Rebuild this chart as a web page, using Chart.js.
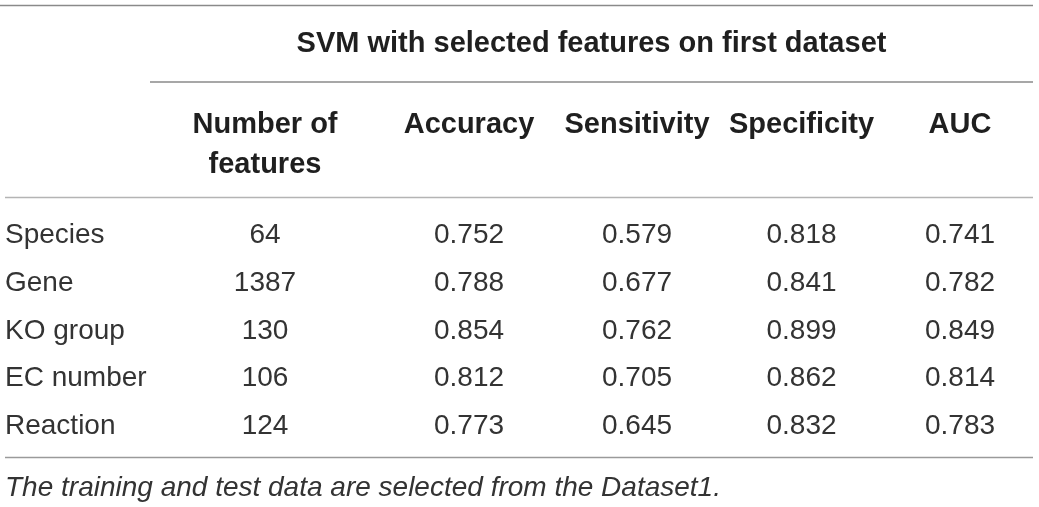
<!DOCTYPE html>
<html>
<head>
<meta charset="utf-8">
<script src="https://cdn.jsdelivr.net/npm/chart.js@4.4.1/dist/chart.umd.min.js"></script>
<style>
  html, body { margin: 0; padding: 0; background: #fff; }
  #wrap { width: 1039px; height: 507px; }
</style>
</head>
<body>
<div id="wrap"><canvas id="svmTable"></canvas></div>
<script>
// Table contents
const tableTitle = "SVM with selected features on first dataset";
const columnHeaders = [["Number of", "features"], ["Accuracy"], ["Sensitivity"], ["Specificity"], ["AUC"]];
const featureTypes = ["Species", "Gene", "KO group", "EC number", "Reaction"];
const numFeatures = [64, 1387, 130, 106, 124];
const accuracy = [0.752, 0.788, 0.854, 0.812, 0.773];
const sensitivity = [0.579, 0.677, 0.762, 0.705, 0.645];
const specificity = [0.818, 0.841, 0.899, 0.862, 0.832];
const auc = [0.741, 0.782, 0.849, 0.814, 0.783];
const footnote = "The training and test data are selected from the Dataset1.";

// Relative column widths on the x scale (layout only)
const colWidths = [230, 178, 158, 171, 146];

const FONT = "'Liberation Sans', Arial, sans-serif";
const columns = [numFeatures, accuracy, sensitivity, specificity, auc];
const colCenters = colWidths.map((w, i) => colWidths.slice(0, i).reduce((a, b) => a + b, 0) + w / 2);
const totalWidth = colWidths.reduce((a, b) => a + b, 0);

function formatCell(col, v) {
  return col === 0 ? String(v) : v.toFixed(3);
}

// Draws rules, headings and cell text
const tableTextPlugin = {
  id: "tableText",
  afterDatasetsDraw(chart) {
    const { ctx, chartArea, scales } = chart;
    const x = scales.x;
    const y = scales.y;
    ctx.save();

    // horizontal rules
    const rule = (x0, x1, yy, color) => {
      ctx.beginPath();
      ctx.strokeStyle = color;
      ctx.lineWidth = 1.5;
      ctx.moveTo(x0, yy);
      ctx.lineTo(x1, yy);
      ctx.stroke();
    };
    rule(0, chartArea.right, 5.5, "#8a8a8a");
    rule(chartArea.left, chartArea.right, 82, "#8a8a8a");
    rule(5, chartArea.right, chartArea.top - 12.5, "#b4b4b4");
    rule(5, chartArea.right, chartArea.bottom + 9.5, "#9a9a9a");

    // title over the value columns
    ctx.fillStyle = "#1f1f1f";
    ctx.textAlign = "center";
    ctx.textBaseline = "alphabetic";
    ctx.font = "bold 29px " + FONT;
    ctx.fillText(tableTitle, (chartArea.left + chartArea.right) / 2, 52);

    // column headers
    columnHeaders.forEach((lines, j) => {
      const px = x.getPixelForValue(colCenters[j]);
      lines.forEach((t, k) => ctx.fillText(t, px, 133 + k * 40));
    });

    // row labels
    ctx.fillStyle = "#333";
    ctx.font = "28px " + FONT;
    ctx.textAlign = "left";
    featureTypes.forEach((name, i) => {
      ctx.fillText(name, 5, y.getPixelForValue(i) + 9.5);
    });

    // cell values at the dataset points
    ctx.textAlign = "center";
    chart.data.datasets.forEach((ds, j) => {
      chart.getDatasetMeta(j).data.forEach((pt, i) => {
        ctx.fillText(formatCell(j, ds.data[i].v), pt.x, pt.y + 9.5);
      });
    });

    // footnote
    ctx.textAlign = "left";
    ctx.font = "italic 28px " + FONT;
    ctx.fillText(footnote, 5, chartArea.bottom + 48);

    ctx.restore();
  }
};

const datasets = columns.map((vals, j) => ({
  label: columnHeaders[j].join(" "),
  data: vals.map((v, i) => ({ x: colCenters[j], y: featureTypes[i], v: v })),
  pointRadius: 0,
  pointHoverRadius: 0,
  showLine: false
}));

new Chart(document.getElementById("svmTable"), {
  type: "scatter",
  data: { datasets: datasets },
  options: {
    responsive: true,
    maintainAspectRatio: false,
    animation: false,
    layout: { padding: { left: 150, right: 6, top: 210, bottom: 59 } },
    plugins: { legend: { display: false }, tooltip: { enabled: false } },
    scales: {
      x: { type: "linear", min: 0, max: totalWidth, display: false },
      y: { type: "category", labels: featureTypes, offset: true, display: false }
    }
  },
  plugins: [tableTextPlugin]
});
</script>
</body>
</html>
